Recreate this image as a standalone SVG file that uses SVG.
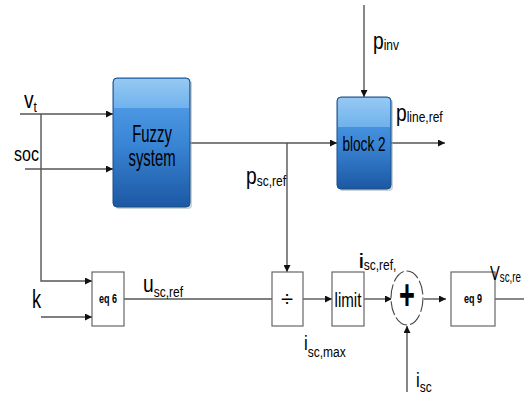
<svg xmlns="http://www.w3.org/2000/svg" width="524" height="396" viewBox="0 0 524 396">
<defs>
<linearGradient id="blue" x1="0" y1="0" x2="0" y2="1">
<stop offset="0" stop-color="#5aa6ec"/>
<stop offset="0.5" stop-color="#3a86d6"/>
<stop offset="1" stop-color="#1c58a3"/>
</linearGradient>
<linearGradient id="band" x1="0" y1="0" x2="0" y2="1">
<stop offset="0" stop-color="#9ccdf4"/>
<stop offset="1" stop-color="#74b5ee"/>
</linearGradient>
<marker id="ar" viewBox="0 0 10 10" refX="10" refY="5" markerWidth="7" markerHeight="7" orient="auto" markerUnits="userSpaceOnUse">
<path d="M0,0 L10,5 L0,10 z" fill="#111"/>
</marker>
</defs>
<style>
.ln{stroke:#555;stroke-width:1.4;fill:none}
.bx{stroke:#666;stroke-width:1.2;fill:#fff}
.blk{stroke:#1b4d88;stroke-width:1}
.t{font-family:"Liberation Sans",Arial,sans-serif;fill:#000}
</style>
<rect width="524" height="396" fill="#fff"/>

<g id="connectors">
<path class="ln" d="M20,114 H113" marker-end="url(#ar)"/>
<path class="ln" d="M25,169 H113" marker-end="url(#ar)"/>
<path class="ln" d="M41,114 V281 H92" marker-end="url(#ar)"/>
<path class="ln" d="M41,317 H92" marker-end="url(#ar)"/>
<path class="ln" d="M190,143 H337" marker-end="url(#ar)"/>
<path class="ln" d="M287,143 V272" marker-end="url(#ar)"/>
<path class="ln" d="M364,5 V97" marker-end="url(#ar)"/>
<path class="ln" d="M391,143 H445" marker-end="url(#ar)"/>
<path class="ln" d="M124,299 H272"/>
<path class="ln" d="M303,299 H332" marker-end="url(#ar)"/>
<path class="ln" d="M364,299 H392" marker-end="url(#ar)"/>
<path class="ln" d="M424,299 H446" marker-end="url(#ar)"/>
<path class="ln" d="M407,392 V326" marker-end="url(#ar)"/>
<path class="ln" d="M495,299 H524"/>
</g>

<g id="fuzzy">
<rect x="115" y="80" width="77" height="129" rx="4" fill="#9aa" opacity="0.5"/>
<rect x="113" y="78" width="77" height="129" rx="4" fill="url(#blue)" class="blk"/>
<path d="M114,108 V82 Q114,79 117,79 H186 Q189,79 189,82 V108 Z" fill="url(#band)" opacity="0.9"/>
<text class="t" font-size="24" transform="translate(152,142) scale(0.62,1)" text-anchor="middle">Fuzzy</text>
<text class="t" font-size="24" transform="translate(152,166) scale(0.62,1)" text-anchor="middle">system</text>
</g>

<g id="block2">
<rect x="339" y="99" width="54" height="92" rx="4" fill="#9aa" opacity="0.5"/>
<rect x="337" y="97" width="54" height="92" rx="4" fill="url(#blue)" class="blk"/>
<path d="M338,127 V101 Q338,98 341,98 H387 Q390,98 390,101 V127 Z" fill="url(#band)" opacity="0.9"/>
<text class="t" font-size="20" transform="translate(364,151) scale(0.68,1)" text-anchor="middle">block 2</text>
</g>

<g id="eq6">
<rect class="bx" x="92" y="272" width="32" height="54"/>
<text class="t" font-size="12" font-weight="bold" transform="translate(108,303) scale(0.75,1)" text-anchor="middle">eq 6</text>
</g>

<g id="divide">
<rect class="bx" x="272" y="272" width="31" height="54"/>
<text class="t" font-size="22" transform="translate(287,306)" text-anchor="middle">÷</text>
</g>

<g id="limit">
<rect class="bx" x="332" y="272" width="32" height="54"/>
<text class="t" font-size="21" transform="translate(348,307) scale(0.72,1)" text-anchor="middle">limit</text>
</g>

<g id="sum">
<ellipse cx="407" cy="298" rx="16" ry="27" fill="#fff" stroke="#444" stroke-width="1.1" stroke-dasharray="14,3"/>
<text class="t" font-size="32" font-weight="bold" transform="translate(407,309) scale(0.85,1.3)" text-anchor="middle">+</text>
</g>

<g id="eq9">
<rect class="bx" x="451" y="272" width="44" height="54"/>
<text class="t" font-size="12" font-weight="bold" transform="translate(473,303) scale(0.75,1)" text-anchor="middle">eq 9</text>
</g>

<g id="labels">
<text class="t" font-size="24" transform="translate(24,108) scale(0.8,1)">v<tspan font-size="15" dy="4">t</tspan></text>
<text class="t" font-size="20" transform="translate(14,161) scale(0.8,1)">soc</text>
<text class="t" font-size="24" transform="translate(373,49) scale(0.8,1)">p<tspan font-size="15" dy="1">inv</tspan></text>
<text class="t" font-size="24" transform="translate(396,121) scale(0.8,1)">p<tspan font-size="15" dy="1">line,ref</tspan></text>
<text class="t" font-size="24" transform="translate(246,184) scale(0.8,1)">p<tspan font-size="15" dy="2">sc,ref</tspan></text>
<text class="t" font-size="26" transform="translate(32,308) scale(0.7,1)">k</text>
<text class="t" font-size="24" transform="translate(143,292) scale(0.8,1)">u<tspan font-size="15" dy="5">sc,ref</tspan></text>
<text class="t" font-size="21" font-weight="bold" transform="translate(359,268) scale(0.8,1)">i<tspan font-size="15" font-weight="normal" dy="2">sc,ref,</tspan></text>
<text class="t" font-size="21" transform="translate(490,280) scale(0.7,1)">V<tspan font-size="14" dy="2">sc,re</tspan></text>
<text class="t" font-size="21" transform="translate(304,350) scale(0.8,1)">i<tspan font-size="15" dy="7">sc,max</tspan></text>
<text class="t" font-size="21" transform="translate(416,387) scale(0.8,1)">i<tspan font-size="15" dy="5">sc</tspan></text>
</g>
</svg>
